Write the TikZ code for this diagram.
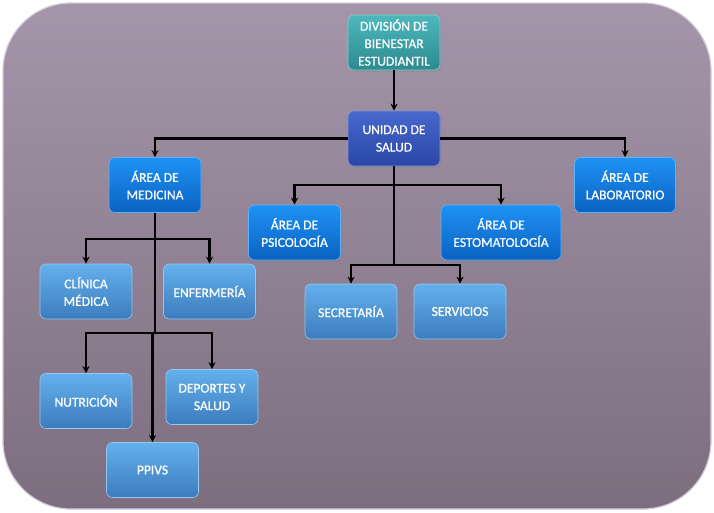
\documentclass[tikz,border=0pt]{standalone}
\usepackage{fontspec}
\setmainfont{Carlito}
\newfontfamily\boxfont[FakeBold=0.7]{Carlito}
\usetikzlibrary{arrows.meta,shadows}
\definecolor{bgtop}{HTML}{A595AA}
\definecolor{bgbot}{HTML}{7C6E7F}
\definecolor{bgedge}{HTML}{D4C8DA}
\definecolor{divtop}{HTML}{4DB8BC}
\definecolor{divbot}{HTML}{2C8A90}
\definecolor{unitop}{HTML}{4868CE}
\definecolor{unibot}{HTML}{2A46A6}
\definecolor{lvtop}{HTML}{1E92F4}
\definecolor{lvbot}{HTML}{0B62C2}
\definecolor{lwtop}{HTML}{64B0EC}
\definecolor{lwbot}{HTML}{3C7CBE}
\tikzset{
  orgbox/.style={rounded corners=6pt, minimum width=92pt, minimum height=55pt,
    align=center, text=white, font=\boxfont\fontsize{13.5}{17.5}\selectfont, inner sep=2pt,
    drop shadow={shadow xshift=1.5pt, shadow yshift=-1.5pt, opacity=0.35}},
  divbox/.style={orgbox, top color=divtop, bottom color=divbot, draw=divtop!70!white, line width=0.6pt},
  unibox/.style={orgbox, top color=unitop, bottom color=unibot, draw=unitop!70!white, line width=0.6pt},
  areabox/.style={orgbox, top color=lvtop, bottom color=lvbot, draw=lvtop!70!white, line width=0.6pt},
  subbox/.style={orgbox, top color=lwtop, bottom color=lwbot, draw=lwtop!70!white, line width=0.6pt},
  link/.style={draw=black, line width=2.2pt},
  arr/.style={link, -{Stealth[length=7pt,width=7pt]}}
}
\begin{document}
\begin{tikzpicture}[x=1pt,y=-1pt]
\useasboundingbox (0,0) rectangle (714,512);
\shade[top color=bgtop, bottom color=bgbot, draw=bgedge, line width=1.2pt, rounded corners=68pt] (3,3) rectangle (711,509);

\node[divbox] (div) at (394,42.5) {DIVISIÓN DE\\BIENESTAR\\ESTUDIANTIL};
\node[unibox] (uni) at (394,138.5) {UNIDAD DE\\SALUD};
\node[areabox] (med) at (155,185) {ÁREA DE\\MEDICINA};
\node[areabox, minimum width=101pt] (lab) at (625,185) {ÁREA DE\\LABORATORIO};
\node[areabox] (psi) at (294.5,232.5) {ÁREA DE\\PSICOLOGÍA};
\node[areabox, minimum width=120pt] (est) at (501,232.5) {ÁREA DE\\ESTOMATOLOGÍA};
\node[subbox] (cli) at (86,291.5) {CLÍNICA\\MÉDICA};
\node[subbox] (enf) at (209.5,291.5) {ENFERMERÍA};
\node[subbox] (sec) at (351,311.5) {SECRETARÍA};
\node[subbox] (ser) at (460,311.5) {SERVICIOS};
\node[subbox] (nut) at (86,401) {NUTRICIÓN};
\node[subbox] (dep) at (212,397) {DEPORTES Y\\SALUD};
\node[subbox] (ppi) at (152.5,470) {PPIVS};

\coordinate (u1) at (394,185);
\coordinate (u2) at (394,265);
\coordinate (m1) at (155,239);
\coordinate (m2) at (155,333);
\coordinate (m3) at (152.5,333);

\draw[arr] (div.south) -- (uni.north);
\draw[arr] (uni.west) -| (med.north);
\draw[arr] (uni.east) -| (lab.north);
\draw[link] (uni.south) -- (u2);
\draw[arr] (u1) -| (psi.north);
\draw[arr] (u1) -| (est.north);
\draw[arr] (u2) -| (sec.north);
\draw[arr] (u2) -| (ser.north);
\draw[link] (med.south) -- (m2);
\draw[arr] (m1) -| (cli.north);
\draw[arr] (m1) -| (enf.north);
\draw[arr] (m2) -| (nut.north);
\draw[arr] (m2) -| (dep.north);
\draw[arr] (m3) -- (ppi.north);
\end{tikzpicture}
\end{document}
